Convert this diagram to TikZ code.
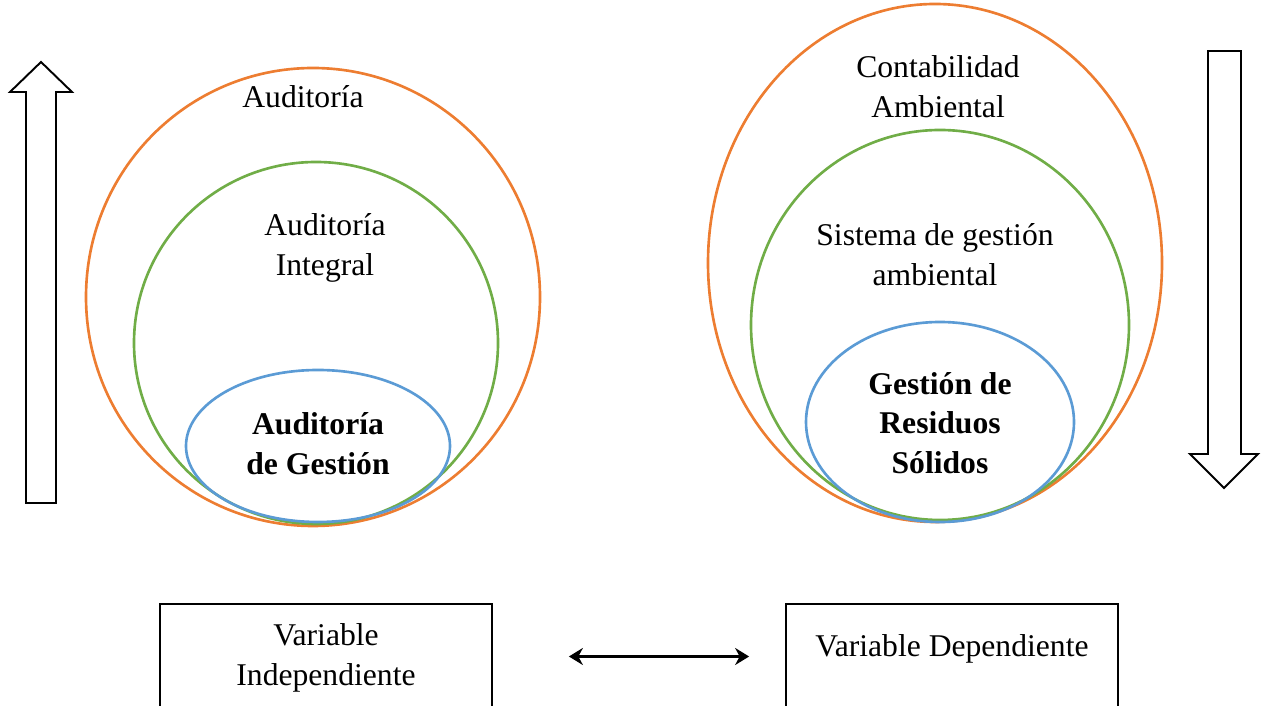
\documentclass[tikz,border=0pt]{standalone}
\usepackage{fontspec}
\setmainfont{Liberation Serif}
\usepackage{tikz}
\usetikzlibrary{arrows.meta, positioning, calc, shapes.geometric}

\definecolor{ringorange}{RGB}{237,125,49}
\definecolor{ringgreen}{RGB}{112,173,71}
\definecolor{ringblue}{RGB}{91,155,213}

\tikzset{
  ring/.style={draw, ellipse, line width=1.5pt, inner sep=0pt},
  ringtext/.style={align=center, font=\fontsize{18}{22.6}\selectfont},
  boldtext/.style={ringtext, font=\fontsize{18}{22.6}\selectfont\bfseries},
  varbox/.style={draw, line width=1pt, minimum width=6.64cm, minimum height=2.1cm},
  blockarrow/.style={draw, line width=1.1pt, fill=white, line join=miter}
}

\begin{document}
\begin{tikzpicture}
		\useasboundingbox (0,0) rectangle (25.32,14.12);
		\clip (0,0) rectangle (25.32,14.12);
		% Left rings (independent variable)
		\node[ring, ringorange, minimum width=9.08cm, minimum height=9.16cm] (audring) at (6.26,8.18) {};
		\node[ring, ringgreen, minimum width=7.28cm, minimum height=7.24cm] (intring) at (6.32,7.26) {};
		\node[ring, ringblue, minimum width=5.28cm, minimum height=3.04cm] (gesring) at (6.36,5.20) {};
		\node[ringtext] (aud) at (6.06,12.18) {Auditoría};
		\node[ringtext] (int) at (6.50,9.16) {Auditoría\\Integral};
		\node[boldtext] (ges) at (6.36,5.24) {Auditoría\\de Gestión};
		% Right rings (dependent variable)
		\node[ring, ringorange, minimum width=9.08cm, minimum height=10.36cm] (conring) at (18.70,8.86) {};
		\node[ring, ringgreen, minimum width=7.56cm, minimum height=7.80cm] (sgaring) at (18.80,7.62) {};
		\node[ring, ringblue, minimum width=5.36cm, minimum height=4.00cm] (resring) at (18.80,5.68) {};
		\node[ringtext] (con) at (18.76,12.38) {Contabilidad\\Ambiental};
		\node[ringtext] (sga) at (18.70,9.02) {Sistema de gestión\\ambiental};
		\node[boldtext] (res) at (18.80,5.66) {Gestión de\\Residuos\\Sólidos};
		% Block arrows
		\draw[blockarrow] (0.52,4.06) -- (0.52,12.28) -- (0.20,12.28) -- (0.82,12.88)
		  -- (1.44,12.28) -- (1.12,12.28) -- (1.12,4.06) -- cycle;
		\draw[blockarrow] (24.16,13.10) -- (24.16,5.04) -- (23.80,5.04) -- (24.48,4.36)
		  -- (25.16,5.04) -- (24.82,5.04) -- (24.82,13.10) -- cycle;
		% Variable boxes
		\node[varbox] (vi) at (6.52,0.99) {};
		\node[varbox] (vd) at (19.04,0.99) {};
		\node[ringtext] (vitext) at (6.52,0.96) {Variable\\Independiente};
		\node[ringtext] (vdtext) at (19.04,1.14) {Variable Dependiente};
		\draw[{Stealth[length=2.8mm,width=3.4mm]}-{Stealth[length=2.8mm,width=3.4mm]}, line width=1.7pt,
		  shorten <=1.52cm, shorten >=0.72cm] (vi) -- (vd);
	\end{tikzpicture}
\end{document}
